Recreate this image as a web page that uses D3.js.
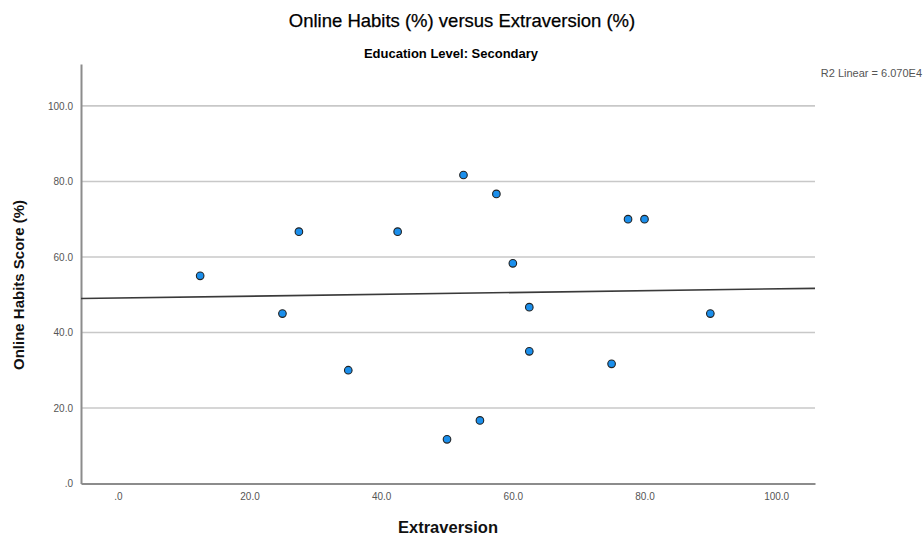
<!DOCTYPE html>
<html>
<head>
<meta charset="utf-8">
<script src="https://cdn.jsdelivr.net/npm/d3@7"></script>
<style>
  html, body { margin: 0; padding: 0; background: #fff; }
  svg { display: block; font-family: "Liberation Sans", Arial, sans-serif; }
</style>
</head>
<body>
<svg id="chart" width="924" height="538"></svg>
<script>
// Extraversion (%) and Online Habits Score (%) for respondents with secondary education
const extraversion = [12.5, 25.0, 27.5, 42.5, 35.0, 50.0, 52.5, 55.0, 57.5, 60.0, 62.5, 62.5, 75.0, 77.5, 80.0, 90.0];
const onlineHabits = [55.0, 45.0, 66.7, 66.7, 30.0, 11.7, 81.7, 16.7, 76.7, 58.3, 46.7, 35.0, 31.7, 70.0, 70.0, 45.0];

const xTicks = [0, 20, 40, 60, 80, 100];
const yTicks = [0, 20, 40, 60, 80, 100];
const xDomain = [-5.6, 105.9];
const yDomain = [0, 111.1];

const titleText = "Online Habits (%) versus Extraversion (%)";
const subtitleText = "Education Level: Secondary";
const xLabel = "Extraversion";
const yLabel = "Online Habits Score (%)";
const r2Text = "R2 Linear = 6.070E4";

const svg = d3.select("#chart");
const plot = { left: 81, right: 815, top: 64, bottom: 483.5 };

const x = d3.scaleLinear().domain(xDomain).range([plot.left, plot.right]);
const y = d3.scaleLinear().domain(yDomain).range([plot.bottom, plot.top]);

const fmt = v => v === 0 ? ".0" : v.toFixed(1);

// horizontal grid lines
svg.append("g")
  .selectAll("line")
  .data(yTicks.filter(t => t > 0))
  .join("line")
  .attr("x1", plot.left).attr("x2", plot.right)
  .attr("y1", d => y(d)).attr("y2", d => y(d))
  .attr("stroke", "#c8c8c8").attr("stroke-width", 1.6);

// y axis
const yAxis = svg.append("g")
  .attr("transform", `translate(${plot.left},0)`)
  .call(d3.axisLeft(y).tickValues(yTicks).tickFormat(fmt).tickSize(0).tickPadding(8));
yAxis.select(".domain").attr("stroke", "#8c8c8c").attr("stroke-width", 2);
yAxis.selectAll("text")
  .attr("fill", "#555").attr("font-size", 10).style("font-family", "'Liberation Sans Narrow', 'Liberation Sans', sans-serif");

// x axis
const xAxis = svg.append("g")
  .attr("transform", `translate(0,${plot.bottom})`)
  .call(d3.axisBottom(x).tickValues(xTicks).tickFormat(fmt).tickSize(0).tickPadding(9));
xAxis.select(".domain").attr("stroke", "#8c8c8c").attr("stroke-width", 2);
xAxis.selectAll("text")
  .attr("fill", "#555").attr("font-size", 10).style("font-family", "'Liberation Sans Narrow', 'Liberation Sans', sans-serif");

// least-squares fit line across the plotted range
const mx = d3.mean(extraversion), my = d3.mean(onlineHabits);
const sxy = d3.sum(extraversion, (v, i) => (v - mx) * (onlineHabits[i] - my));
const sxx = d3.sum(extraversion, v => (v - mx) ** 2);
const slope = sxy / sxx;
const intercept = my - slope * mx;
const fitLine = d3.line().x(d => x(d)).y(d => y(intercept + slope * d));
svg.append("path")
  .datum(xDomain)
  .attr("d", fitLine)
  .attr("fill", "none")
  .attr("stroke", "#3a3a3a")
  .attr("stroke-width", 1.6);

// data points
svg.append("g")
  .selectAll("circle")
  .data(extraversion.map((v, i) => [v, onlineHabits[i]]))
  .join("circle")
  .attr("cx", d => x(d[0]))
  .attr("cy", d => y(d[1]))
  .attr("r", 3.8)
  .attr("fill", "#1b8fec")
  .attr("stroke", "#222")
  .attr("stroke-width", 1.1);

// titles and labels
svg.append("text")
  .attr("x", 462).attr("y", 27)
  .attr("text-anchor", "middle")
  .attr("font-size", 18.5)
  .attr("fill", "#000")
  .attr("stroke", "#000").attr("stroke-width", 0.25)
  .text(titleText);

svg.append("text")
  .attr("x", 451).attr("y", 58)
  .attr("text-anchor", "middle")
  .attr("font-size", 13)
  .attr("font-weight", "bold")
  .attr("fill", "#000")
  .text(subtitleText);

svg.append("text")
  .attr("x", 448).attr("y", 533)
  .attr("text-anchor", "middle")
  .attr("font-size", 16.5)
  .attr("font-weight", "bold")
  .attr("fill", "#111")
  .text(xLabel);

svg.append("text")
  .attr("transform", `translate(24,285) rotate(-90)`)
  .attr("text-anchor", "middle")
  .attr("font-size", 15)
  .attr("font-weight", "bold")
  .attr("fill", "#111")
  .text(yLabel);

svg.append("text")
  .attr("x", 922).attr("y", 77)
  .attr("text-anchor", "end")
  .attr("font-size", 11)
  .attr("fill", "#555")
  .text(r2Text);
</script>
</body>
</html>
